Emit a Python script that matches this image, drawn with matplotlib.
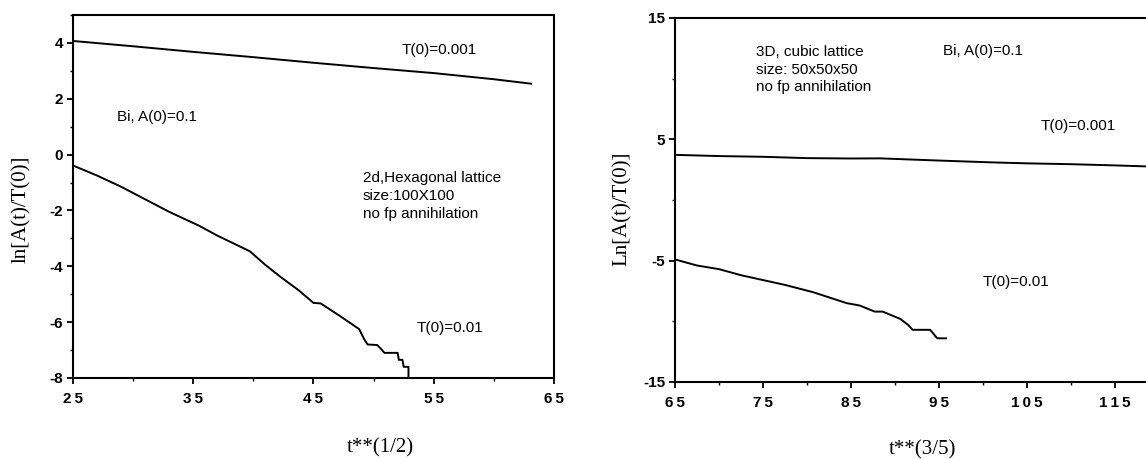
import matplotlib
matplotlib.use("Agg")
import matplotlib.pyplot as plt
from matplotlib.ticker import FuncFormatter

plt.rcParams['axes.unicode_minus'] = False

# ---- left panel: 2d hexagonal lattice ----
hex_x_hi = [25, 30, 35, 40, 45, 50, 55, 60, 63.1]
hex_y_hi = [4.07, 3.88, 3.68, 3.49, 3.29, 3.10, 2.92, 2.70, 2.54]

hex_x_lo = [25, 27, 29, 31, 33, 35.5, 37, 39.7, 41, 42.2, 43.8, 45, 45.6,
            47.2, 48.8, 49.2, 49.5, 50.3, 50.6, 50.9, 52.0, 52.1, 52.4,
            52.5, 52.9, 52.9]
hex_y_lo = [-0.39, -0.75, -1.15, -1.6, -2.05, -2.55, -2.9, -3.46, -3.95,
            -4.36, -4.87, -5.31, -5.33, -5.78, -6.25, -6.6, -6.8, -6.82,
            -6.95, -7.1, -7.1, -7.35, -7.35, -7.6, -7.6, -8.0]

hex_xticks = [25, 35, 45, 55, 65]
hex_xminor = [30, 40, 50, 60]
hex_yticks = [-8, -6, -4, -2, 0, 2, 4]
hex_yminor = [-7, -5, -3, -1, 1, 3, 5]

# ---- right panel: 3D cubic lattice ----
cub_x_hi = [65, 70, 75, 80, 85, 88.3, 95, 101, 105, 110, 115, 118.5, 121]
cub_y_hi = [3.72, 3.62, 3.56, 3.45, 3.42, 3.43, 3.25, 3.10, 3.02, 2.95,
            2.85, 2.77, 2.70]

cub_x_lo = [65, 67.5, 70, 72.5, 75, 77.5, 80.7, 84.5, 86, 87.7, 88.6,
            90.6, 91.5, 92, 94, 94.8, 95.8]
cub_y_lo = [-4.9, -5.4, -5.7, -6.2, -6.6, -7.0, -7.6, -8.5, -8.7, -9.2,
            -9.2, -9.8, -10.3, -10.7, -10.7, -11.4, -11.4]

cub_xticks = [65, 75, 85, 95, 105, 115]
cub_xminor = [70, 80, 90, 100, 110, 120]
cub_yticks = [-15, -5, 5, 15]
cub_yminor = [-10, 0, 10]

sans = ['Liberation Sans', 'DejaVu Sans']
serif = ['Liberation Serif', 'DejaVu Serif']
txt_size = 11
tick_fmt = FuncFormatter(lambda v, p: '\u2009'.join(str(int(round(v)))))


def style_axis(ax, xt, xm, yt, ym):
    ax.set_xticks(xt)
    ax.set_xticks(xm, minor=True)
    ax.set_yticks(yt)
    ax.set_yticks(ym, minor=True)
    ax.xaxis.set_major_formatter(tick_fmt)
    for s in ax.spines.values():
        s.set_linewidth(1.5)
    ax.tick_params(which='major', direction='out', length=4, width=1.3,
                   labelsize=11, pad=3)
    ax.tick_params(which='minor', direction='out', length=2.5, width=1.0)
    ax.tick_params(axis='x', pad=6)
    for lab in ax.get_xticklabels() + ax.get_yticklabels():
        lab.set_family(sans)
        lab.set_fontweight('bold')


fig = plt.figure(figsize=(11.46, 4.59), dpi=100)

# left
ax1 = fig.add_axes([0.0637, 0.1765, 0.4197, 0.7908])
ax1.plot(hex_x_hi, hex_y_hi, color='black', lw=1.4)
ax1.plot(hex_x_lo, hex_y_lo, color='black', lw=1.4)
ax1.set_xlim(25, 65)
ax1.set_ylim(-8, 5)
style_axis(ax1, hex_xticks, hex_xminor, hex_yticks, hex_yminor)
ax1.text(55.5, 3.75, 'T(0)=0.001', family=sans, fontsize=txt_size, va='center', ha='center')
ax1.text(28.7, 1.36, 'Bi, A(0)=0.1', family=sans, fontsize=txt_size, va='center')
ax1.text(49.1, -0.6, '2d,Hexagonal lattice\nsize:100X100\nno fp annihilation',
         family=sans, fontsize=txt_size, va='top', ha='left', linespacing=1.35)
ax1.text(53.6, -6.2, 'T(0)=0.01', family=sans, fontsize=txt_size, va='center')
fig.text(0.019, 0.545, 'ln[A(t)/T(0)]', family=serif, fontsize=15,
         rotation=90, ha='center', va='center')
fig.text(0.332, 0.024, 't**(1/2)', family=serif, fontsize=15,
         ha='center', va='center')

# right (axis runs past the right edge, as in the scan)
ax2 = fig.add_axes([0.589, 0.1678, 0.4607, 0.793])
ax2.plot(cub_x_hi, cub_y_hi, color='black', lw=1.4)
ax2.plot(cub_x_lo, cub_y_lo, color='black', lw=1.4)
ax2.set_xlim(65, 125)
ax2.set_ylim(-15, 15)
ax2.spines['right'].set_visible(False)
style_axis(ax2, cub_xticks, cub_xminor, cub_yticks, cub_yminor)
ax2.text(74.2, 12.8, '3D, cubic lattice\nsize: 50x50x50\nno fp annihilation',
         family=sans, fontsize=txt_size, va='top', ha='left', linespacing=1.35)
ax2.text(95.5, 12.3, 'Bi, A(0)=0.1', family=sans, fontsize=txt_size, va='center')
ax2.text(106.5, 6.1, 'T(0)=0.001', family=sans, fontsize=txt_size, va='center')
ax2.text(100, -6.8, 'T(0)=0.01', family=sans, fontsize=txt_size, va='center')
fig.text(0.543, 0.545, 'Ln[A(t)/T(0)]', family=serif, fontsize=15,
         rotation=90, ha='center', va='center')
fig.text(0.805, 0.02, 't**(3/5)', family=serif, fontsize=15,
         ha='center', va='center')

fig.savefig('out.png', dpi=100)
